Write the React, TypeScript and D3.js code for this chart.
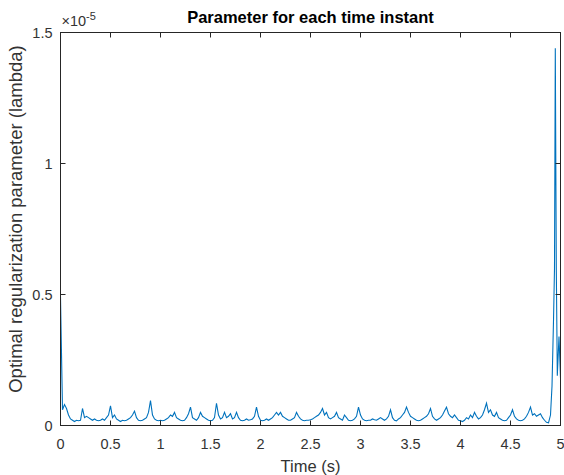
import React from "react";
import * as d3 from "d3";

// Regular-grid part of the series (t = 0.00 ... 4.90 s, step 0.02 s), values in units of 1e-5
const lambdaGrid: number[] = [
  0.49, 0.06, 0.08, 0.065, 0.04, 0.025, 0.02, 0.015, 0.02, 0.018,
  0.02, 0.065, 0.03, 0.035, 0.03, 0.025, 0.02, 0.025, 0.02, 0.018,
  0.02, 0.025, 0.02, 0.03, 0.04, 0.075, 0.03, 0.04, 0.025, 0.02,
  0.015, 0.02, 0.018, 0.02, 0.025, 0.03, 0.04, 0.055, 0.03, 0.02,
  0.018, 0.02, 0.025, 0.03, 0.05, 0.095, 0.04, 0.025, 0.02, 0.018,
  0.02, 0.018, 0.02, 0.025, 0.03, 0.04, 0.035, 0.05, 0.03, 0.025,
  0.02, 0.018, 0.02, 0.03, 0.045, 0.07, 0.03, 0.025, 0.02, 0.03,
  0.05, 0.035, 0.03, 0.025, 0.02, 0.018, 0.02, 0.03, 0.085, 0.04,
  0.025, 0.03, 0.05, 0.03, 0.035, 0.045, 0.025, 0.03, 0.05, 0.03,
  0.02, 0.018, 0.02, 0.025, 0.02, 0.022, 0.025, 0.035, 0.07, 0.035,
  0.02, 0.018, 0.02, 0.025, 0.02, 0.025, 0.03, 0.04, 0.05, 0.04,
  0.05, 0.035, 0.03, 0.025, 0.02, 0.02, 0.025, 0.03, 0.05, 0.035,
  0.025, 0.02, 0.018, 0.02, 0.02, 0.022, 0.025, 0.03, 0.035, 0.04,
  0.05, 0.065, 0.04, 0.05, 0.03, 0.025, 0.03, 0.035, 0.05, 0.03,
  0.025, 0.02, 0.04, 0.03, 0.02, 0.018, 0.02, 0.025, 0.035, 0.07,
  0.04, 0.025, 0.02, 0.018, 0.02, 0.02, 0.025, 0.022, 0.02, 0.025,
  0.03, 0.025, 0.02, 0.025, 0.035, 0.06, 0.03, 0.02, 0.018, 0.025,
  0.03, 0.04, 0.05, 0.07, 0.05, 0.035, 0.03, 0.025, 0.02, 0.018,
  0.02, 0.025, 0.03, 0.035, 0.045, 0.065, 0.035, 0.025, 0.02, 0.025,
  0.03, 0.04, 0.055, 0.07, 0.045, 0.035, 0.03, 0.04, 0.03, 0.02,
  0.018, 0.015, 0.02, 0.03, 0.025, 0.04, 0.03, 0.05, 0.035, 0.025,
  0.03, 0.04, 0.06, 0.085, 0.05, 0.06, 0.04, 0.035, 0.05, 0.03,
  0.025, 0.02, 0.018, 0.02, 0.03, 0.04, 0.06, 0.035, 0.025, 0.02,
  0.018, 0.02, 0.025, 0.035, 0.05, 0.07, 0.04, 0.045, 0.035, 0.04,
  0.045, 0.03, 0.02, 0.012, 0.01, 0.04,
];
const gridStep = 0.02;

// Irregular tail (end-of-record spike)
const tailTimes: number[] = [4.915, 4.93, 4.94, 4.948, 4.958, 4.968, 4.985, 5.0];
const tailValues: number[] = [0.15, 0.4, 0.6, 1.44, 0.6, 0.19, 0.34, 0.18];

const xTicks: number[] = [0, 0.5, 1, 1.5, 2, 2.5, 3, 3.5, 4, 4.5, 5];
const xTickLabels: string[] = ["0", "0.5", "1", "1.5", "2", "2.5", "3", "3.5", "4", "4.5", "5"];
const yTicks: number[] = [0, 0.5, 1, 1.5];
const yTickLabels: string[] = ["0", "0.5", "1", "1.5"];

const titleText = "Parameter for each time instant";
const xLabel = "Time (s)";
const yLabel = "Optimal regularization parameter (lambda)";

export default function App() {
  const W = 564;
  const H = 475;
  const left = 60.5;
  const right = 560.5;
  const top = 32.5;
  const bottom = 425.5;

  const x = d3.scaleLinear().domain([0, 5]).range([left, right]);
  const y = d3.scaleLinear().domain([0, 1.5]).range([bottom, top]);

  const pts: [number, number][] = lambdaGrid.map((v, i) => [i * gridStep, v]);
  tailTimes.forEach((t, i) => pts.push([t, tailValues[i]]));

  const line = d3
    .line<[number, number]>()
    .x((d) => x(d[0]))
    .y((d) => y(d[1]));

  const axisColor = "#262626";
  const textColor = "#333333";
  const font = "'Liberation Sans', Arial, Helvetica, sans-serif";
  const tickLen = 5;

  return (
    <svg
      width={W}
      height={H}
      style={{ position: "absolute", left: 0, top: 0, background: "#fff" }}
      fontFamily={font}
    >
      <rect x={0} y={0} width={W} height={H} fill="#fff" />
      <clipPath id="plotclip">
        <rect x={left} y={top} width={right - left} height={bottom - top} />
      </clipPath>
      <path
        d={line(pts) || ""}
        fill="none"
        stroke="#0072BD"
        strokeWidth={1.1}
        clipPath="url(#plotclip)"
      />
      {/* box */}
      <rect
        x={left}
        y={top}
        width={right - left}
        height={bottom - top}
        fill="none"
        stroke={axisColor}
        strokeWidth={1}
      />
      {/* x ticks */}
      {xTicks.map((t, i) => (
        <g key={"xt" + i}>
          <line x1={x(t)} x2={x(t)} y1={bottom} y2={bottom - tickLen} stroke={axisColor} />
          <line x1={x(t)} x2={x(t)} y1={top} y2={top + tickLen} stroke={axisColor} />
          <text
            x={x(t)}
            y={bottom + 23}
            textAnchor="middle"
            fontSize={14.5}
            fill={textColor}
          >
            {xTickLabels[i]}
          </text>
        </g>
      ))}
      {/* y ticks */}
      {yTicks.map((t, i) => (
        <g key={"yt" + i}>
          <line x1={left} x2={left + tickLen} y1={y(t)} y2={y(t)} stroke={axisColor} />
          <line x1={right} x2={right - tickLen} y1={y(t)} y2={y(t)} stroke={axisColor} />
          <text
            x={left - 8}
            y={y(t) + 5}
            textAnchor="end"
            fontSize={14.5}
            fill={textColor}
          >
            {yTickLabels[i]}
          </text>
        </g>
      ))}
      {/* exponent */}
      <text x={left + 1} y={top - 7} fontSize={14.5} fill={textColor}>
        {"\u00D710"}
        <tspan dy={-6} fontSize={11}>
          -5
        </tspan>
      </text>
      {/* title */}
      <text
        x={(left + right) / 2}
        y={23}
        textAnchor="middle"
        fontSize={16.5}
        fontWeight="bold"
        fill="#000"
      >
        {titleText}
      </text>
      {/* x label */}
      <text
        x={(left + right) / 2}
        y={472}
        textAnchor="middle"
        fontSize={16.5}
        fill={textColor}
      >
        {xLabel}
      </text>
      {/* y label */}
      <text
        transform={`translate(22, 219) rotate(-90)`}
        textAnchor="middle"
        fontSize={18.5}
        fill={textColor}
      >
        {yLabel}
      </text>
    </svg>
  );
}
